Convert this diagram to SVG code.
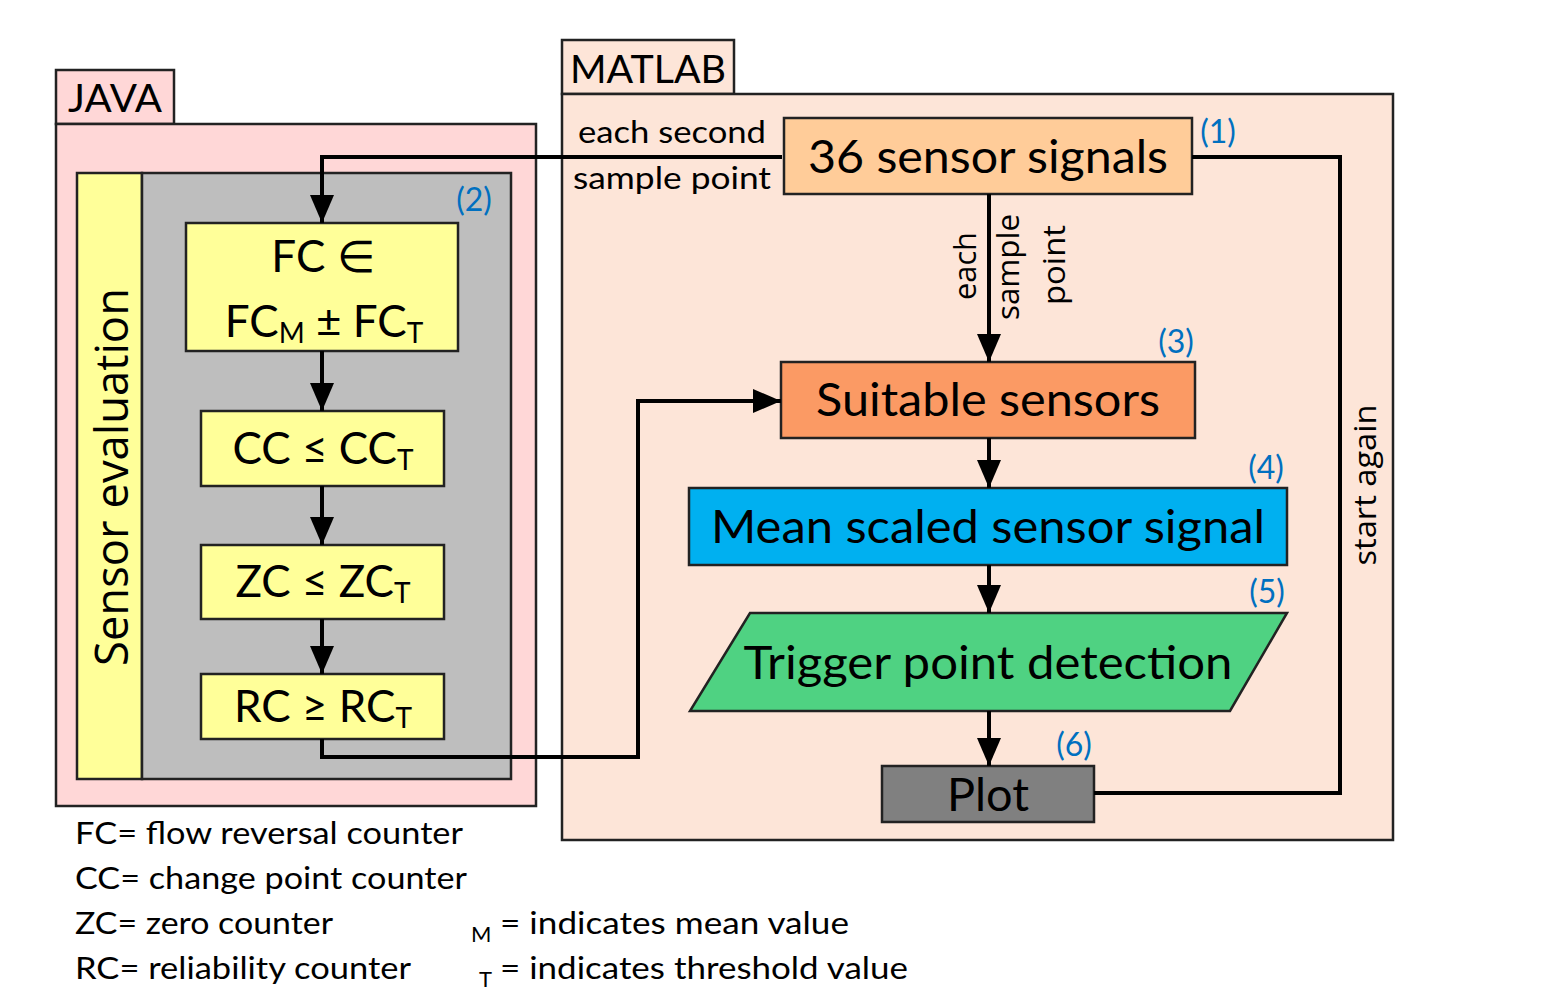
<svg xmlns="http://www.w3.org/2000/svg" width="1543" height="1007" viewBox="0 0 1543 1007">
<style>
.c{font-family:Lato,"Open Sans","Liberation Sans",sans-serif;fill:#000}
.o{font-family:"Open Sans","Noto Sans","Liberation Sans",sans-serif;fill:#000}
.n{font-family:Lato,"Liberation Sans",sans-serif;fill:#0070C0;font-size:32px}
.box{stroke:#222;stroke-width:2.5}
.ln{fill:none;stroke:#000;stroke-width:4}
</style>
<defs>
<marker id="ah" viewBox="0 0 28 24" refX="28" refY="12" markerWidth="28" markerHeight="24" markerUnits="userSpaceOnUse" orient="auto">
<path d="M0,0 L28,12 L0,24 z" fill="#000"/>
</marker>
</defs>
<rect width="1543" height="1007" fill="#fff"/>

<g id="java">
<rect class="box" x="56" y="70" width="118" height="54" fill="#FFD7D7"/>
<text class="c" x="115" y="112" font-size="38" text-anchor="middle" fill="#3B0A0A" textLength="94" lengthAdjust="spacingAndGlyphs">JAVA</text>
<rect class="box" x="56" y="124" width="480" height="682" fill="#FFD7D7"/>
</g>

<g id="matlab">
<rect class="box" x="562" y="40" width="172" height="54" fill="#FDE5D8"/>
<text class="c" x="648" y="83" font-size="38" text-anchor="middle" fill="#3B1A0A" textLength="156" lengthAdjust="spacingAndGlyphs">MATLAB</text>
<rect class="box" x="562" y="94" width="831" height="746" fill="#FDE5D8"/>
</g>

<g id="sensor-eval">
<rect class="box" x="77" y="173" width="65" height="606" fill="#FFFF99"/>
<rect class="box" x="142" y="173" width="369" height="606" fill="#BEBEBE"/>
<text class="o" transform="translate(128,477) rotate(-90)" font-size="46" text-anchor="middle" textLength="378" lengthAdjust="spacingAndGlyphs">Sensor evaluation</text>
<text class="n" x="474" y="211" text-anchor="middle">(2)</text>
</g>

<g id="fc">
<rect class="box" x="186" y="223" width="272" height="128" fill="#FFFF99"/>
<text class="c" x="323" y="272" font-size="44" text-anchor="middle">FC ∈</text>
<text class="c" x="324" y="337" font-size="44" text-anchor="middle">FC<tspan font-size="28" dy="6">M</tspan><tspan dy="-6"> ± FC</tspan><tspan font-size="28" dy="6">T</tspan></text>
</g>

<g id="cc">
<rect class="box" x="201" y="411" width="243" height="75" fill="#FFFF99"/>
<text class="c" x="323" y="464" font-size="44" text-anchor="middle">CC ≤ CC<tspan font-size="28" dy="6">T</tspan></text>
</g>

<g id="zc">
<rect class="box" x="201" y="545" width="243" height="74" fill="#FFFF99"/>
<text class="c" x="323" y="597" font-size="44" text-anchor="middle">ZC ≤ ZC<tspan font-size="28" dy="6">T</tspan></text>
</g>

<g id="rc">
<rect class="box" x="201" y="674" width="243" height="65" fill="#FFFF99"/>
<text class="c" x="323" y="722" font-size="44" text-anchor="middle">RC ≥ RC<tspan font-size="28" dy="6">T</tspan></text>
</g>

<g id="signals">
<rect class="box" x="784" y="118" width="408" height="76" fill="#FFCC99"/>
<text class="c" x="988" y="173" font-size="46" text-anchor="middle" textLength="360" lengthAdjust="spacingAndGlyphs">36 sensor signals</text>
<text class="n" x="1218" y="143" text-anchor="middle">(1)</text>
</g>

<g id="suitable">
<rect class="box" x="781" y="362" width="414" height="76" fill="#FB9A64"/>
<text class="c" x="988" y="416" font-size="46" text-anchor="middle" textLength="344" lengthAdjust="spacingAndGlyphs">Suitable sensors</text>
<text class="n" x="1176" y="353" text-anchor="middle">(3)</text>
</g>

<g id="mean">
<rect class="box" x="689" y="488" width="598" height="77" fill="#00B0F0"/>
<text class="c" x="988" y="543" font-size="46" text-anchor="middle" textLength="554" lengthAdjust="spacingAndGlyphs">Mean scaled sensor signal</text>
<text class="n" x="1266" y="479" text-anchor="middle">(4)</text>
</g>

<g id="trigger">
<polygon class="box" points="750,613 1287,613 1230,711 690,711" fill="#4FD282"/>
<text class="c" x="988" y="679" font-size="46" text-anchor="middle" textLength="489" lengthAdjust="spacingAndGlyphs">Trigger point detection</text>
<text class="n" x="1267" y="603" text-anchor="middle">(5)</text>
</g>

<g id="plot">
<rect class="box" x="882" y="766" width="212" height="56" fill="#808080"/>
<text class="c" x="988" y="811" font-size="46" text-anchor="middle" textLength="82" lengthAdjust="spacingAndGlyphs">Plot</text>
<text class="n" x="1074" y="756" text-anchor="middle">(6)</text>
</g>

<g id="connectors">
<polyline class="ln" points="782,157 322,157 322,223" marker-end="url(#ah)"/>
<line class="ln" x1="322" y1="351" x2="322" y2="411" marker-end="url(#ah)"/>
<line class="ln" x1="322" y1="486" x2="322" y2="545" marker-end="url(#ah)"/>
<line class="ln" x1="322" y1="619" x2="322" y2="674" marker-end="url(#ah)"/>
<polyline class="ln" points="322,739 322,757 638,757 638,401 781,401" marker-end="url(#ah)"/>
<line class="ln" x1="989" y1="194" x2="989" y2="362" marker-end="url(#ah)"/>
<line class="ln" x1="989" y1="438" x2="989" y2="488" marker-end="url(#ah)"/>
<line class="ln" x1="989" y1="565" x2="989" y2="613" marker-end="url(#ah)"/>
<line class="ln" x1="989" y1="711" x2="989" y2="766" marker-end="url(#ah)"/>
<polyline class="ln" points="1192,157 1340,157 1340,793 1094,793"/>
<text class="c" x="672" y="143" font-size="30" text-anchor="middle" textLength="188" lengthAdjust="spacingAndGlyphs">each second</text>
<text class="c" x="672" y="189" font-size="30" text-anchor="middle" textLength="198" lengthAdjust="spacingAndGlyphs">sample point</text>
<text class="o" transform="translate(976,266) rotate(-90)" font-size="31" text-anchor="middle" textLength="68" lengthAdjust="spacingAndGlyphs">each</text>
<text class="o" transform="translate(1019,267) rotate(-90)" font-size="31" text-anchor="middle" textLength="106" lengthAdjust="spacingAndGlyphs">sample</text>
<text class="o" transform="translate(1065,265) rotate(-90)" font-size="31" text-anchor="middle" textLength="80" lengthAdjust="spacingAndGlyphs">point</text>
<text class="o" transform="translate(1376,485) rotate(-90)" font-size="31" text-anchor="middle" textLength="161" lengthAdjust="spacingAndGlyphs">start again</text>
</g>

<g id="legend">
<text class="c" x="75" y="844" font-size="31" textLength="388" lengthAdjust="spacingAndGlyphs">FC= flow reversal counter</text>
<text class="c" x="75" y="889" font-size="31" textLength="392" lengthAdjust="spacingAndGlyphs">CC= change point counter</text>
<text class="c" x="75" y="934" font-size="31" textLength="258" lengthAdjust="spacingAndGlyphs">ZC= zero counter</text>
<text class="c" x="75" y="979" font-size="31" textLength="336" lengthAdjust="spacingAndGlyphs">RC= reliability counter</text>
<text class="c" x="471" y="942" font-size="22">M</text>
<text class="c" x="500" y="934" font-size="31" textLength="349" lengthAdjust="spacingAndGlyphs">= indicates mean value</text>
<text class="c" x="479" y="987" font-size="22">T</text>
<text class="c" x="500" y="979" font-size="31" textLength="408" lengthAdjust="spacingAndGlyphs">= indicates threshold value</text>
</g>
</svg>
